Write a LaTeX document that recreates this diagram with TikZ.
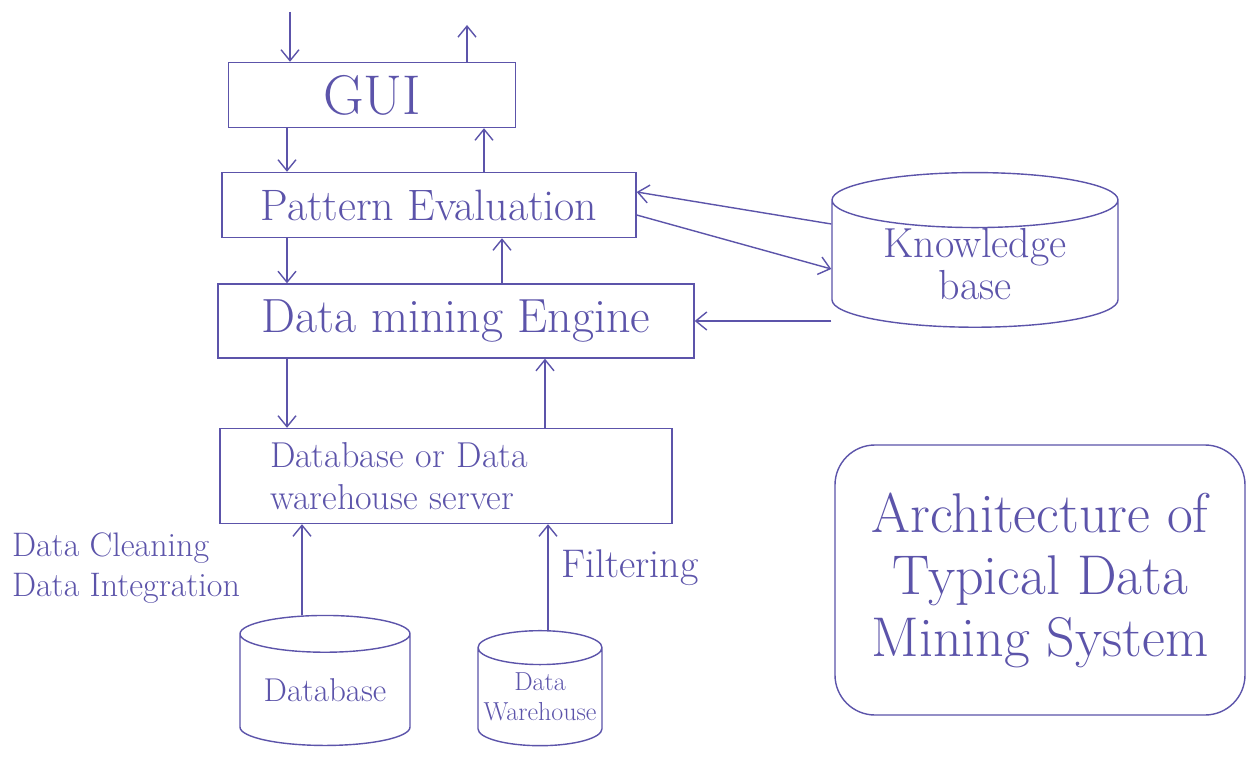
\documentclass[tikz,border=0pt]{standalone}
\usetikzlibrary{arrows.meta,shapes.geometric,positioning}
\definecolor{pen}{RGB}{92,84,170}
\tikzset{
  box/.style={draw=pen,line width=1.4pt,text=pen,inner sep=0pt},
  store/.style={cylinder,shape border rotate=90,draw=pen,line width=1.4pt,text=pen,
    align=center,inner sep=0pt},
  arr/.style={draw=pen,line width=1.4pt,-{Straight Barb[length=11pt,width=18pt]}},
  note/.style={text=pen,align=left,inner sep=0pt},
  huge/.style={font=\fontsize{56}{60}\selectfont},
  big/.style={font=\fontsize{48}{52}\selectfont},
  mid/.style={font=\fontsize{44}{46}\selectfont},
  small/.style={font=\fontsize{36}{42}\selectfont},
  tiny/.style={font=\fontsize{26}{30}\selectfont}
}
\begin{document}
\begin{tikzpicture}[x=1pt,y=-1pt]
  \useasboundingbox[fill=white] (0,0) rectangle (1254,760);
  \node[box,huge,minimum width=287pt,minimum height=65pt] (gui) at (372,95) {GUI};
  \node[box,mid,minimum width=414pt,minimum height=65pt] (pe) at (429,205) {Pattern Evaluation};
  \node[box,big,minimum width=476pt,minimum height=74pt] (dme) at (456,321) {Data mining Engine};
  \node[box,small,minimum width=452pt,minimum height=95pt,text width=352pt,align=left] (srv)
    at (446,476) {Database or Data\\warehouse server};
  \node[store,font=\fontsize{42}{42}\selectfont,minimum width=286pt,minimum height=150pt,
    aspect=0.3] (kb) at (975,264) {Knowledge\\base};
  \node[store,font=\fontsize{33}{36}\selectfont,minimum width=170pt,minimum height=130pt,
    aspect=0.3] (db) at (325,690) {Database};
  \node[store,tiny,minimum width=124pt,minimum height=115pt,aspect=0.3] (dw) at (540,697)
    {Data\\Warehouse};
  \node[draw=pen,line width=1.4pt,rounded corners=40pt,text=pen,align=center,
    minimum width=410pt,minimum height=270pt,font=\fontsize{56}{62}\selectfont] (title)
    at (1040,580) {Architecture of\\Typical Data\\Mining System};
  \node[note,font=\fontsize{34}{40}\selectfont] (clean) at (126,568)
    {Data Cleaning\\Data Integration};
  \node[note,font=\fontsize{40}{44}\selectfont] (filt) at (630,568) {Filtering};
  \coordinate (in) at (290,12);
  \coordinate (out) at (467,25);
  \coordinate (dn) at (287,0);
  \coordinate (up1) at (484,0);
  \coordinate (up2) at (502,0);
  \coordinate (up3) at (545,0);
  \coordinate (c1) at (302,0);
  \coordinate (c2) at (548,0);
  \draw[arr] (in) -- (gui.north -| in);
  \draw[arr] (gui.north -| out) -- (out);
  \draw[arr] (gui.south -| dn) -- (pe.north -| dn);
  \draw[arr] (pe.south -| dn) -- (dme.north -| dn);
  \draw[arr] (dme.south -| dn) -- (srv.north -| dn);
  \draw[arr] (pe.north -| up1) -- (gui.south -| up1);
  \draw[arr] (dme.north -| up2) -- (pe.south -| up2);
  \draw[arr] (srv.north -| up3) -- (dme.south -| up3);
  \draw[arr] ([yshift=40pt]kb.west) -- ([yshift=13pt]pe.east);
  \draw[arr] ([yshift=-10pt]pe.east) -- ([yshift=-5pt]kb.west);
  \draw[arr] (kb.west |- dme.east) -- (dme.east);
  \draw[arr] (db.north -| c1) -- (srv.south -| c1);
  \draw[arr] (dw.north -| c2) -- (srv.south -| c2);
\end{tikzpicture}
\end{document}
